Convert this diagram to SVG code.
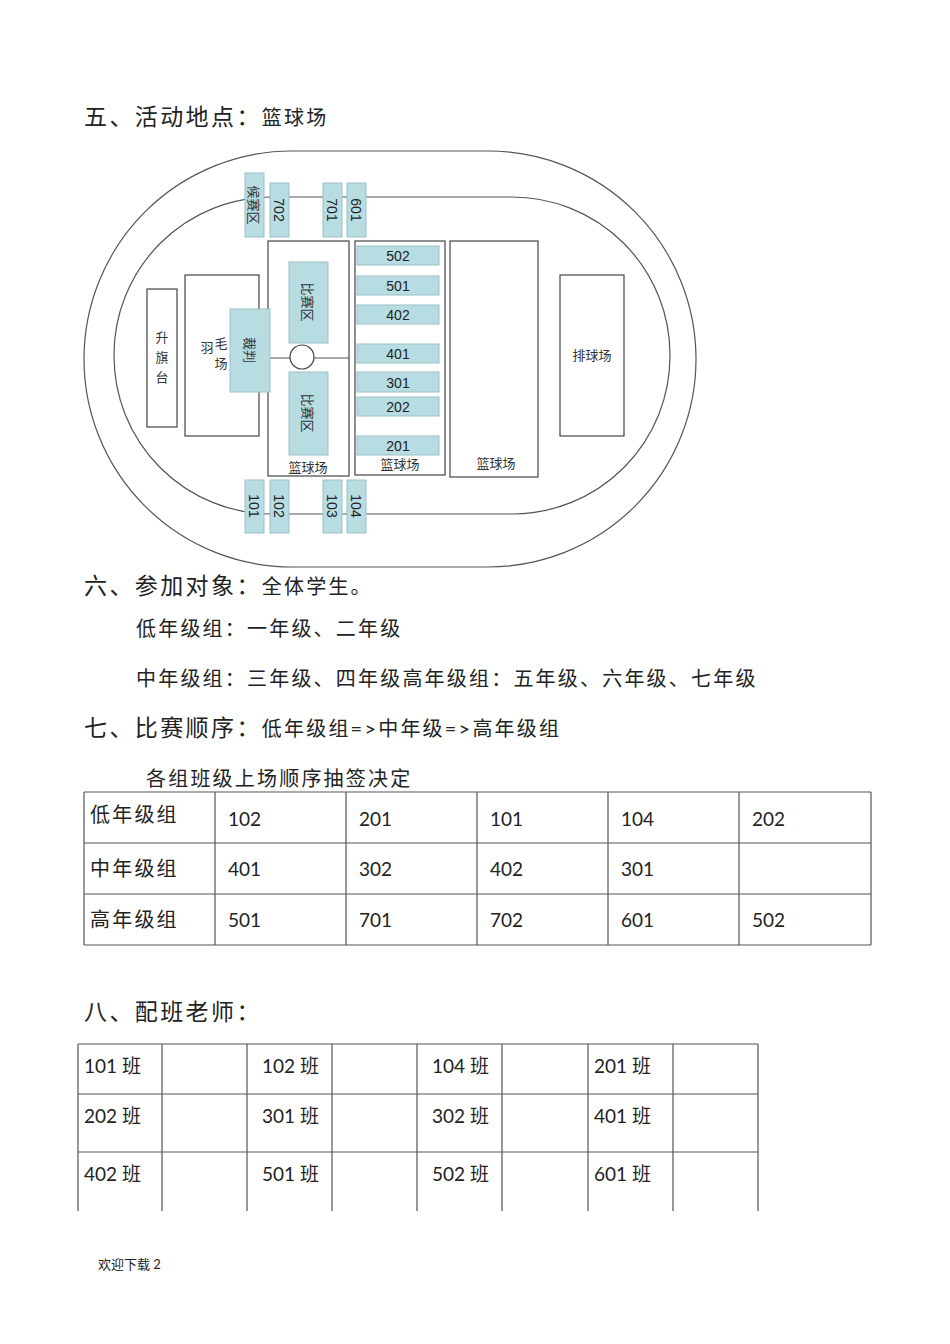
<svg xmlns="http://www.w3.org/2000/svg" width="950" height="1344" viewBox="0 0 950 1344">
<style>
.t{font-family:Lato,"Noto Sans CJK SC",sans-serif;fill:#222}
.h{font-size:23px;letter-spacing:2.4px}
.b{font-size:20px;letter-spacing:2.2px}
.c{font-size:19px}
.ln{stroke:#555;stroke-width:1.2;fill:none}
.bx{fill:#fff;stroke:#444;stroke-width:1.2}
.cy{fill:#b7dde3;stroke:#9bbfc4;stroke-width:1}
.d{font-family:"Liberation Sans","Noto Sans CJK SC",sans-serif;font-size:14px;fill:#222;text-anchor:middle}
.z{font-family:"Noto Sans CJK SC",sans-serif;font-size:13px;fill:#333;text-anchor:middle}
</style>
<text class="t h" x="84" y="125">五、活动地点：<tspan class="b">篮球场</tspan></text>
<g id="track">
<rect x="84" y="151" width="612" height="416" rx="208" class="ln"/>
<rect x="114" y="197" width="556" height="317" rx="158" class="ln"/>
</g>
<g id="courts">
<rect class="bx" x="147" y="289" width="30" height="138"/>
<text class="z"><tspan x="162" y="342">升</tspan><tspan x="162" y="362">旗</tspan><tspan x="162" y="382">台</tspan></text>
<rect class="bx" x="185" y="275" width="74" height="161"/>
<text class="z" x="207" y="352">羽</text><text class="z" x="221" y="348">毛</text><text class="z" x="221" y="368">场</text>
<rect class="bx" x="268" y="241" width="81" height="235"/>
<line class="ln" x1="268" y1="358" x2="349" y2="358"/>
<circle cx="302" cy="357" r="12" class="bx"/>
<rect class="bx" x="355" y="241" width="90" height="234"/>
<rect class="bx" x="450" y="241" width="88" height="236"/>
<rect class="bx" x="560" y="275" width="64" height="161"/>
<text class="z" x="592" y="360">排球场</text>
<text class="z" x="308" y="472">篮球场</text>
<text class="z" x="400" y="469">篮球场</text>
<text class="z" x="496" y="468">篮球场</text>
</g>
<g id="boxes">
<rect class="cy" x="230" y="309" width="40" height="83"/>
<text class="z" transform="translate(250,350) rotate(90)" dy="5">裁判</text>
<rect class="cy" x="289" y="262" width="39" height="81"/>
<text class="z" transform="translate(308,302) rotate(90)" dy="5">比赛区</text>
<rect class="cy" x="289" y="372" width="39" height="83"/>
<text class="z" transform="translate(308,413) rotate(90)" dy="5">比赛区</text>
<rect class="cy" x="245" y="173" width="19" height="64"/>
<text class="z" transform="translate(254,205) rotate(90)" dy="5">候赛区</text>
<rect class="cy" x="270" y="183" width="19" height="54"/>
<text class="d" transform="translate(279,210) rotate(90)" dy="5">702</text>
<rect class="cy" x="323" y="183" width="19" height="54"/>
<text class="d" transform="translate(332,210) rotate(90)" dy="5">701</text>
<rect class="cy" x="347" y="183" width="19" height="54"/>
<text class="d" transform="translate(356,210) rotate(90)" dy="5">601</text>
<rect class="cy" x="245" y="480" width="19" height="53"/>
<text class="d" transform="translate(254,506) rotate(90)" dy="5">101</text>
<rect class="cy" x="270" y="480" width="19" height="53"/>
<text class="d" transform="translate(279,506) rotate(90)" dy="5">102</text>
<rect class="cy" x="323" y="480" width="19" height="53"/>
<text class="d" transform="translate(332,506) rotate(90)" dy="5">103</text>
<rect class="cy" x="347" y="480" width="19" height="53"/>
<text class="d" transform="translate(356,506) rotate(90)" dy="5">104</text>
<rect class="cy" x="357" y="246" width="82" height="19"/><text class="d" x="398" y="261">502</text>
<rect class="cy" x="357" y="276" width="82" height="19"/><text class="d" x="398" y="291">501</text>
<rect class="cy" x="357" y="305" width="82" height="19"/><text class="d" x="398" y="320">402</text>
<rect class="cy" x="357" y="344" width="82" height="19"/><text class="d" x="398" y="359">401</text>
<rect class="cy" x="357" y="372" width="82" height="20"/><text class="d" x="398" y="388">301</text>
<rect class="cy" x="357" y="397" width="82" height="19"/><text class="d" x="398" y="412">202</text>
<rect class="cy" x="357" y="436" width="82" height="19"/><text class="d" x="398" y="451">201</text>
</g>
<text class="t h" x="84" y="594">六、参加对象：<tspan class="b">全体学生。</tspan></text>
<text class="t b" x="136" y="636">低年级组：一年级、二年级</text>
<text class="t b" x="136" y="686">中年级组：三年级、四年级高年级组：五年级、六年级、七年级</text>
<text class="t h" x="84" y="736">七、比赛顺序：<tspan class="b">低年级组=&gt;中年级=&gt;高年级组</tspan></text>
<text class="t b" x="146" y="786">各组班级上场顺序抽签决定</text>
<g id="table1" class="ln" stroke="#777">
<path d="M84 792H871M84 843H871M84 894H871M84 945H871M84 792V945M215 792V945M346 792V945M477 792V945M608 792V945M739 792V945M871 792V945"/>
</g>
<g class="t c">
<text class="b" x="90" y="822">低年级组</text><text x="228" y="826">102</text><text x="359" y="826">201</text><text x="490" y="826">101</text><text x="621" y="826">104</text><text x="752" y="826">202</text>
<text class="b" x="90" y="876">中年级组</text><text x="228" y="876">401</text><text x="359" y="876">302</text><text x="490" y="876">402</text><text x="621" y="876">301</text>
<text class="b" x="90" y="927">高年级组</text><text x="228" y="927">501</text><text x="359" y="927">701</text><text x="490" y="927">702</text><text x="621" y="927">601</text><text x="752" y="927">502</text>
</g>
<text class="t h" x="84" y="1020">八、配班老师：</text>
<g id="table2" class="ln">
<path d="M78 1044H758M78 1094H758M78 1152H758M78 1044V1211M162 1044V1211M247 1044V1211M332 1044V1211M417 1044V1211M502 1044V1211M588 1044V1211M673 1044V1211M758 1044V1211"/>
</g>
<g class="t c">
<text x="84" y="1073">101 班</text><text x="262" y="1073">102 班</text><text x="432" y="1073">104 班</text><text x="594" y="1073">201 班</text>
<text x="84" y="1123">202 班</text><text x="262" y="1123">301 班</text><text x="432" y="1123">302 班</text><text x="594" y="1123">401 班</text>
<text x="84" y="1181">402 班</text><text x="262" y="1181">501 班</text><text x="432" y="1181">502 班</text><text x="594" y="1181">601 班</text>
</g>
<text class="t" x="98" y="1269" font-size="13">欢迎下载 2</text>
</svg>
